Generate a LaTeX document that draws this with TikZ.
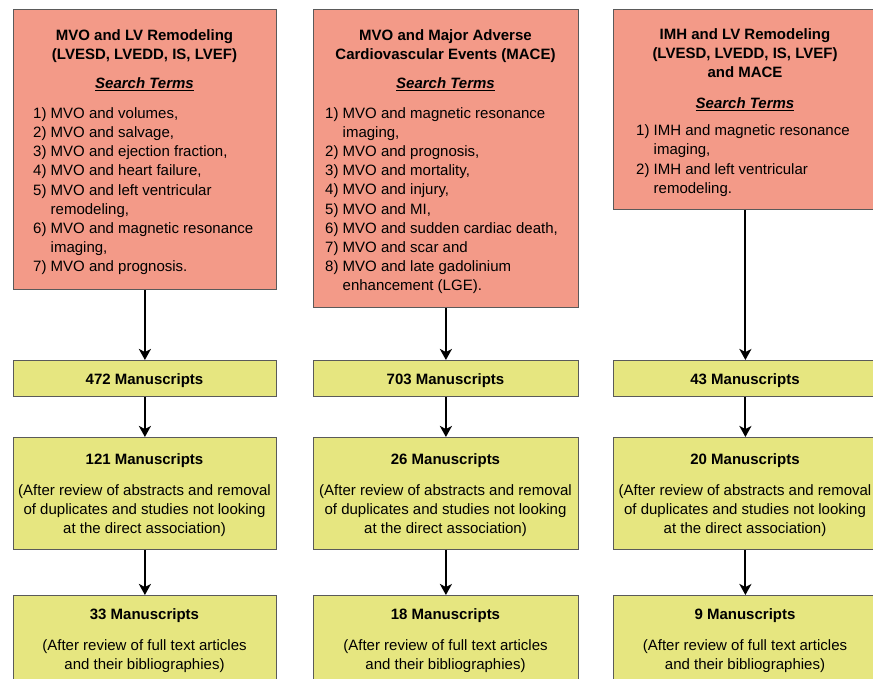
\documentclass[tikz,border=0pt]{standalone}
\usepackage{fontspec}
\setmainfont{Liberation Sans}
\usetikzlibrary{arrows.meta}
\definecolor{boxred}{RGB}{243,154,136}
\definecolor{boxyel}{RGB}{230,230,128}
\definecolor{edgegray}{RGB}{90,90,90}
\begin{document}
\begin{tikzpicture}[x=1pt,y=-1pt,
  redbox/.style={draw=edgegray, line width=0.8pt, fill=boxred, inner sep=0pt, anchor=north west},
  yelbox/.style={draw=edgegray, line width=0.8pt, fill=boxyel, inner sep=0pt, anchor=north west},
  ttl/.style={inner sep=0pt, font=\fontsize{15}{19.15}\selectfont\bfseries, align=center, anchor=base},
  lst/.style={inner sep=0pt, font=\fontsize{15}{19.15}\selectfont, align=left, anchor=base west},
  ctr/.style={inner sep=0pt, font=\fontsize{15}{19.15}\selectfont, align=center, anchor=base},
  flow/.style={-{Stealth[length=11pt,width=12pt,inset=3pt]}, line width=2pt}]
\useasboundingbox (0,0) rectangle (873,679);
\clip (0,0) rectangle (873,679);

% red boxes
\node[redbox, minimum width=263pt, minimum height=280pt] (r1) at (13,9) {};
\node[redbox, minimum width=265pt, minimum height=298pt] (r2) at (313,9) {};
\node[redbox, minimum width=264pt, minimum height=200pt] (r3) at (613,9) {};

% yellow boxes
\node[yelbox, minimum width=263pt, minimum height=36pt] (y1a) at (13,360) {};
\node[yelbox, minimum width=263pt, minimum height=112pt] (y2a) at (13,437) {};
\node[yelbox, minimum width=263pt, minimum height=100pt] (y3a) at (13,595) {};
\node[yelbox, minimum width=265pt, minimum height=36pt] (y1b) at (313,360) {};
\node[yelbox, minimum width=265pt, minimum height=112pt] (y2b) at (313,437) {};
\node[yelbox, minimum width=265pt, minimum height=100pt] (y3b) at (313,595) {};
\node[yelbox, minimum width=264pt, minimum height=36pt] (y1c) at (613,360) {};
\node[yelbox, minimum width=264pt, minimum height=112pt] (y2c) at (613,437) {};
\node[yelbox, minimum width=264pt, minimum height=100pt] (y3c) at (613,595) {};

% arrows
\draw[flow] (r1.south) -- (y1a.north);
\draw[flow] (y1a.south) -- (y2a.north);
\draw[flow] (y2a.south) -- (y3a.north);
\draw[flow] (r2.south) -- (y1b.north);
\draw[flow] (y1b.south) -- (y2b.north);
\draw[flow] (y2b.south) -- (y3b.north);
\draw[flow] (r3.south) -- (y1c.north);
\draw[flow] (y1c.south) -- (y2c.north);
\draw[flow] (y2c.south) -- (y3c.north);

% column 1 text (multi-line nodes are anchored at their last baseline)
\node[ttl] (t1) at (144.5,59.2) {MVO and LV Remodeling\\(LVESD, LVEDD, IS, LVEF)};
\node[ctr] (s1) at (144.5,89) {\textbf{\textit{\underline{Search Terms}}}};
\node[lst] (l1) at (33,271.7) {1) MVO and volumes,\\2) MVO and salvage,\\3) MVO and ejection fraction,\\4) MVO and heart failure,\\5) MVO and left ventricular\\\hphantom{5) }remodeling,\\6) MVO and magnetic resonance\\\hphantom{6) }imaging,\\7) MVO and prognosis.};

% column 2 text
\node[ttl] (t2) at (445.5,59.2) {MVO and Major Adverse\\Cardiovascular Events (MACE)};
\node[ctr] (s2) at (445.5,89) {\textbf{\textit{\underline{Search Terms}}}};
\node[lst] (l2) at (325,290.6) {1) MVO and magnetic resonance\\\hphantom{1) }imaging,\\2) MVO and prognosis,\\3) MVO and mortality,\\4) MVO and injury,\\5) MVO and MI,\\6) MVO and sudden cardiac death,\\7) MVO and scar and\\8) MVO and late gadolinium\\\hphantom{8) }enhancement (LGE).};

% column 3 text
\node[ttl] (t3) at (745,77.6) {IMH and LV Remodeling\\(LVESD, LVEDD, IS, LVEF)\\and MACE};
\node[ctr] (s3) at (745,109) {\textbf{\textit{\underline{Search Terms}}}};
\node[lst] (l3) at (636,193.2) {1) IMH and magnetic resonance\\\hphantom{1) }imaging,\\2) IMH and left ventricular\\\hphantom{2) }remodeling.};

% yellow texts column 1
\node[ttl] (c1a) at (144.5,384.3) {472 Manuscripts};
\node[ttl] (c2a) at (144.5,464) {121 Manuscripts};
\node[ctr] (d2a) at (144.5,533.3) {(After review of abstracts and removal\\of duplicates and studies not looking\\at the direct association)};
\node[ttl] (c3a) at (144.5,619.3) {33 Manuscripts};
\node[ctr] (d3a) at (144.5,669.2) {(After review of full text articles\\and their bibliographies)};

% yellow texts column 2
\node[ttl] (c1b) at (445.5,384.3) {703 Manuscripts};
\node[ttl] (c2b) at (445.5,464) {26 Manuscripts};
\node[ctr] (d2b) at (445.5,533.3) {(After review of abstracts and removal\\of duplicates and studies not looking\\at the direct association)};
\node[ttl] (c3b) at (445.5,619.3) {18 Manuscripts};
\node[ctr] (d3b) at (445.5,669.2) {(After review of full text articles\\and their bibliographies)};

% yellow texts column 3
\node[ttl] (c1c) at (745,384.3) {43 Manuscripts};
\node[ttl] (c2c) at (745,464) {20 Manuscripts};
\node[ctr] (d2c) at (745,533.3) {(After review of abstracts and removal\\of duplicates and studies not looking\\at the direct association)};
\node[ttl] (c3c) at (745,619.3) {9 Manuscripts};
\node[ctr] (d3c) at (745,669.2) {(After review of full text articles\\and their bibliographies)};
\end{tikzpicture}
\end{document}
